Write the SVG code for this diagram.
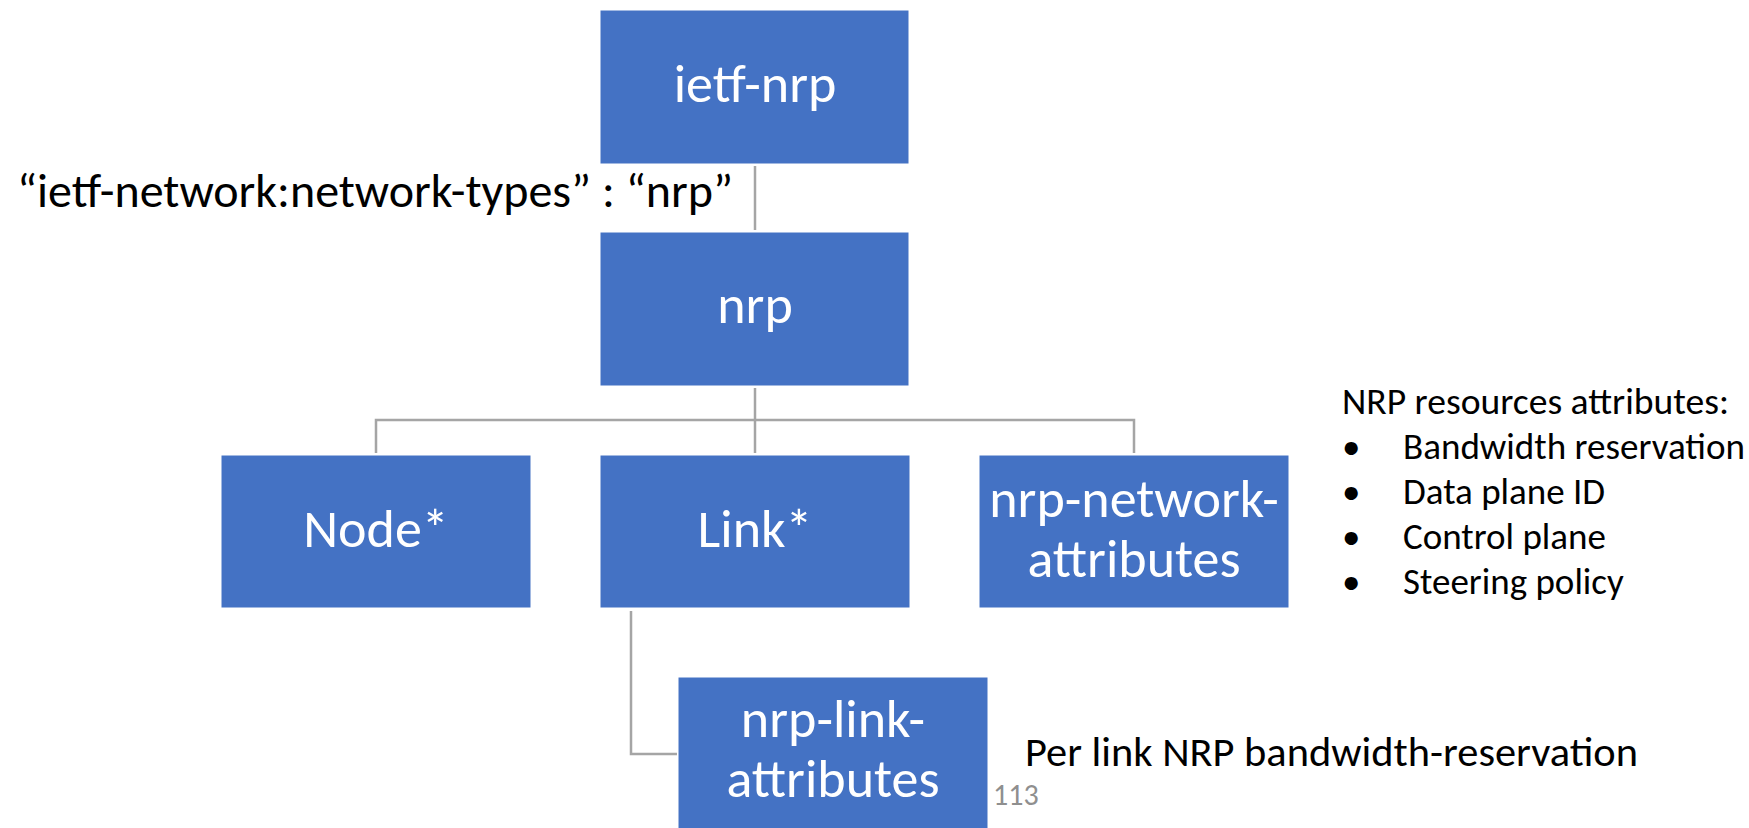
<svg xmlns="http://www.w3.org/2000/svg" width="1749" height="828" viewBox="0 0 1749 828">
  <style>
    .box { fill: #4472c4; stroke: #ffffff; stroke-width: 1; }
    .lbl { font-family: Carlito, Lato, "Liberation Sans", sans-serif; font-size: 54px; fill: #ffffff; text-anchor: middle; }
    .note { font-family: Carlito, Lato, "Liberation Sans", sans-serif; fill: #000000; }
    .conn { fill: none; stroke: #a5a5a5; stroke-width: 2.5; }
  </style>
  <rect width="1749" height="828" fill="#ffffff"/>

  <!-- tree connectors -->
  <g id="connectors">
    <line class="conn" x1="755" y1="166" x2="755" y2="230"/>
    <line class="conn" x1="755" y1="388" x2="755" y2="453"/>
    <polyline class="conn" points="376,453 376,420 1134,420 1134,453"/>
    <polyline class="conn" points="631,611 631,754 677,754"/>
  </g>

  <g id="ietf-nrp">
    <rect class="box" x="600" y="10" width="309" height="154"/>
    <text class="lbl" x="755" y="102">ietf-nrp</text>
  </g>

  <g id="nrp">
    <rect class="box" x="600" y="232" width="309" height="154"/>
    <text class="lbl" x="755" y="323">nrp</text>
  </g>

  <g id="node">
    <rect class="box" x="221" y="455" width="310" height="153"/>
    <text class="lbl" x="376" y="547">Node*</text>
  </g>

  <g id="link">
    <rect class="box" x="600" y="455" width="310" height="153"/>
    <text class="lbl" x="755" y="547">Link*</text>
  </g>

  <g id="nrp-network-attributes">
    <rect class="box" x="979" y="455" width="310" height="153"/>
    <text class="lbl" x="1134" y="517">nrp-network-</text>
    <text class="lbl" x="1134" y="577">attributes</text>
  </g>

  <g id="nrp-link-attributes">
    <rect class="box" x="678" y="677" width="310" height="154"/>
    <text class="lbl" x="833" y="737">nrp-link-</text>
    <text class="lbl" x="833" y="797">attributes</text>
  </g>

  <!-- annotations -->
  <text class="note" x="17" y="207" font-size="48" textLength="716" lengthAdjust="spacingAndGlyphs">“ietf-network:network-types” : “nrp”</text>

  <g id="resources-note" class="note" font-size="37">
    <text x="1342" y="414" textLength="387" lengthAdjust="spacingAndGlyphs">NRP resources attributes:</text>
    <text x="1342" y="459">•</text>
    <text x="1403" y="459" textLength="342" lengthAdjust="spacingAndGlyphs">Bandwidth reservation</text>
    <text x="1342" y="504">•</text>
    <text x="1403" y="504">Data plane ID</text>
    <text x="1342" y="549">•</text>
    <text x="1403" y="549">Control plane</text>
    <text x="1342" y="594">•</text>
    <text x="1403" y="594">Steering policy</text>
  </g>

  <text class="note" x="1025" y="766" font-size="42" textLength="613" lengthAdjust="spacingAndGlyphs">Per link NRP bandwidth-reservation</text>
  <text x="993" y="805" font-family="Carlito, Lato, 'Liberation Sans', sans-serif" font-size="30" fill="#8f8f8f">113</text>
</svg>
